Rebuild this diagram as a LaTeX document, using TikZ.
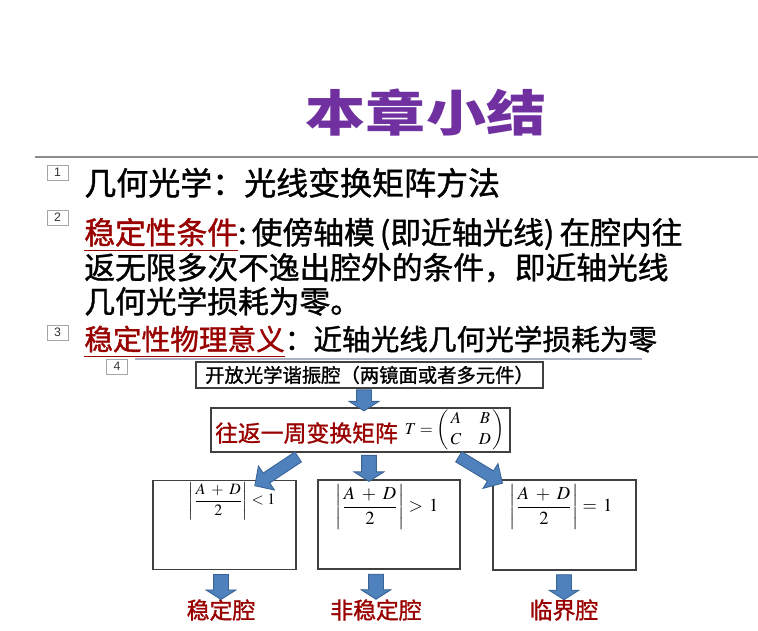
\documentclass[tikz,border=0pt]{standalone}
\usepackage{mathptmx}
\usepackage{graphicx}
\usepackage[no-math]{fontspec}
\setmainfont{Noto Sans CJK SC}
\newfontfamily\heavy{Noto Sans CJK SC}[FakeBold=1.2]
\newfontfamily\numfont{Liberation Sans}
\usetikzlibrary{shapes.arrows}
\definecolor{titlepurple}{HTML}{7030A0}
\definecolor{keyred}{HTML}{990000}
\definecolor{arrowblue}{HTML}{4F81BD}
\definecolor{arrowedge}{HTML}{3A6495}
\definecolor{boxgray}{HTML}{404040}
\definecolor{rulegray}{HTML}{8C8C8C}
\definecolor{ruleblue}{HTML}{A9B1C2}

\begin{document}
\begin{tikzpicture}[x=0.02cm, y=-0.02cm,
		numbox/.style={draw=gray!70, line width=0.4pt, minimum width=0.42cm, minimum height=0.3cm, inner sep=0pt, font=\numfont\fontsize{7}{7}\selectfont, text=black!80},
		item/.style={anchor=base west, inner sep=0pt, text=black},
		box/.style={draw=boxgray, line width=0.8pt, fill=white, inner sep=0pt},
		barrow/.style={single arrow, fill=arrowblue, draw=arrowedge, line width=0.5pt, single arrow head extend=0.15cm, single arrow tip angle=115, single arrow head indent=0pt, inner xsep=0pt, inner ysep=0.14cm, sloped, allow upside down},
		darrow/.style={barrow, inner ysep=0.11cm, single arrow head extend=0.17cm, single arrow tip angle=92},
		result/.style={text=keyred, inner sep=0pt, font=\heavy\fontsize{13}{13}\selectfont}
		]
		\useasboundingbox[fill=white] (0,0) rectangle (758,630);
		
		% title and rules
		\node[text=titlepurple, font=\bfseries\fontsize{28}{28}\selectfont] (title) at (426,113) {\scalebox{1.22}[1]{本章小结}};
		\draw[rulegray, line width=0.8pt] (35,157) -- (758,157);
		\draw[ruleblue, line width=0.6pt] (135,359) -- (642,359);
		
		% numbered points
		\node[numbox] (n1) at (57.5,172.5) {1};
		\node[numbox] (n2) at (57.5,217.5) {2};
		\node[numbox] (n3) at (57.5,332.5) {3};
		\node[numbox] (n4) at (117,366.5) {4};
		
		\node[item, font=\heavy\fontsize{18.2}{18.2}\selectfont] (i1) at (84,195) {几何光学：光线变换矩阵方法};
		\node[item, font=\heavy\fontsize{17.5}{17.5}\selectfont] (i2a) at (84,244) {\textcolor{keyred}{\underline{稳定性条件}}:\,使傍轴模\,(即近轴光线)\,在腔内往};
		\node[item, font=\heavy\fontsize{17.5}{17.5}\selectfont] (i2b) at (84,279) {返无限多次不逸出腔外的条件，即近轴光线};
		\node[item, font=\heavy\fontsize{17.5}{17.5}\selectfont] (i2c) at (84,313) {几何光学损耗为零。};
		\node[item, font=\heavy\fontsize{16.3}{16.3}\selectfont] (i3) at (84,350) {\textcolor{keyred}{\underline{稳定性物理意义}}：近轴光线几何光学损耗为零};
		
		% flow chart
		\node[box, minimum width=6.94cm, minimum height=0.52cm, font=\heavy\fontsize{11}{11}\selectfont] (open) at (369.5,375) {开放光学谐振腔（两镜面或者多元件）};
		\node[box, minimum width=5.98cm, minimum height=0.88cm] (trip) at (360.5,430) {};
		\node[text=keyred, inner sep=0pt, font=\heavy\fontsize{13}{13}\selectfont] (triptxt) at (306.5,433) {往返一周变换矩阵};
		\node[inner sep=0pt, font=\fontsize{9.5}{10}\selectfont] (tmat) at (455,430) {\renewcommand\arraystretch{1.2}$T=\left(\begin{array}{@{\,}cc@{\,}}A&B\\C&D\end{array}\right)$};
		
		\node[box, minimum width=2.86cm, minimum height=1.78cm] (boxL) at (224.5,525) {};
		\node[box, minimum width=2.84cm, minimum height=1.78cm] (boxM) at (389,524.5) {};
		\node[box, minimum width=2.86cm, minimum height=1.80cm] (boxR) at (564.5,525) {};
		
		\node[inner sep=0pt, font=\fontsize{9}{10}\selectfont] (fL) at (232,501) {$\left|\displaystyle\frac{A\;+\;D}{2}\right|<1$};
		\node[inner sep=0pt, font=\fontsize{10.5}{11}\selectfont] (fM) at (387,507) {$\left|\displaystyle\frac{A\;+\;D}{2}\right|>\,1$};
		\node[inner sep=0pt, font=\fontsize{10.5}{11}\selectfont] (fR) at (561,507) {$\left|\displaystyle\frac{A\;+\;D}{2}\right|=\,1$};
		
		\node[result] (lblL) at (221,610) {稳定腔};
		\node[result] (lblM) at (376,610) {非稳定腔};
		\node[result] (lblR) at (564,610) {临界腔};
		
		% block arrows
		\path ([xshift=-0.11cm]open.south) -- ([xshift=-0.11cm]open.south |- trip.north) node[midway, barrow, minimum height=0.42cm] {};
		\path ([xshift=0.17cm]trip.south) -- ([xshift=0.17cm]trip.south |- boxM.north) node[midway, barrow, minimum height=0.52cm] {};
		\path ([xshift=-1.21cm,yshift=-0.06cm]trip.south) -- ([xshift=-0.78cm,yshift=-0.08cm]boxL.north east) node[midway, darrow, minimum height=1.04cm] {};
		\path ([xshift=1.93cm,yshift=-0.06cm]trip.south) -- ([xshift=0.14cm,yshift=-0.04cm]boxR.north west) node[midway, darrow, minimum height=1.02cm] {};
		\path (lblL.north |- boxL.south) -- (lblL.north) node[midway, barrow, minimum height=0.5cm] {};
		\path (lblM.north |- boxM.south) -- (lblM.north) node[midway, barrow, minimum height=0.5cm] {};
		\path (lblR.north |- boxR.south) -- (lblR.north) node[midway, barrow, minimum height=0.5cm] {};
	\end{tikzpicture}
\end{document}
